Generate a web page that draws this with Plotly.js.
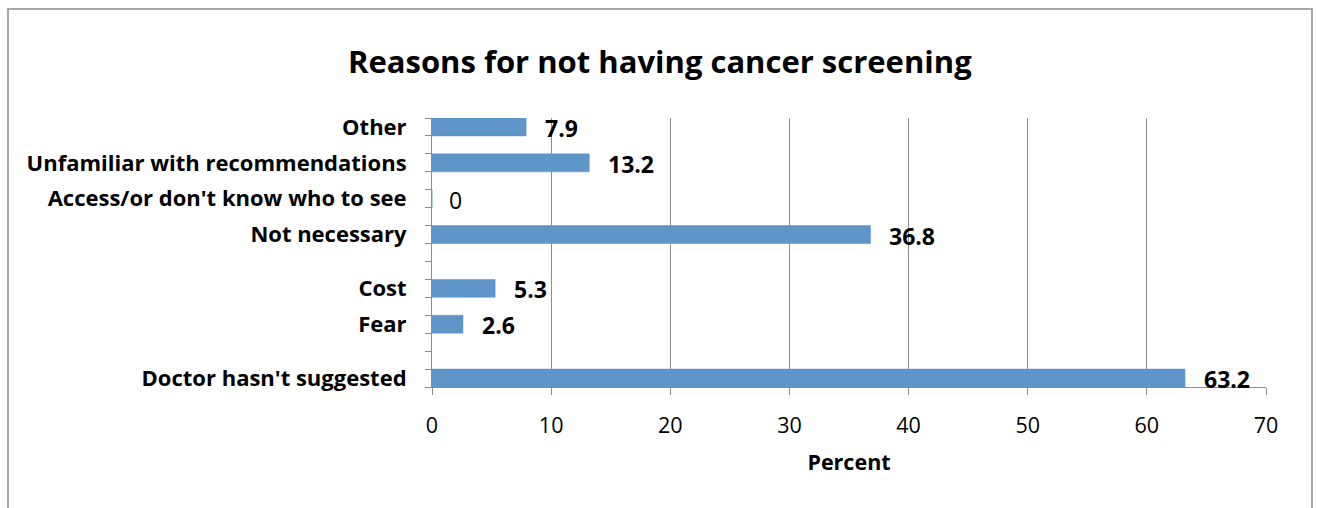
<!DOCTYPE html>
<html>
<head>
<meta charset="utf-8">
<script src="https://cdn.plot.ly/plotly-3.0.1.min.js"></script>
<style>
html,body{margin:0;padding:0;background:#fff;}
#chart{width:1317px;height:508px;}
</style>
</head>
<body>
<div id="chart"></div>
<script>
// Category labels (top to bottom) and their slot positions on the 15-slot category axis
const categories = ["Other", "Unfamiliar with recommendations", "Access/or don't know who to see", "Not necessary", "Cost", "Fear", "Doctor hasn't suggested"];
const slots = [1, 3, 5, 7, 10, 12, 15];
const values = [7.9, 13.2, 0, 36.8, 5.3, 2.6, 63.2];
const valueLabels = ["7.9", "13.2", "0", "36.8", "5.3", "2.6", "63.2"];
const xTicks = [0, 10, 20, 30, 40, 50, 60, 70];

const FONT = "'Open Sans', 'Noto Sans', sans-serif";

const trace = {
  type: 'bar',
  orientation: 'h',
  x: values,
  y: slots,
  width: 1,
  marker: {color: '#5f96c9', line: {color: '#5b8fc4', width: 0.5}},
  hoverinfo: 'x+y'
};

const annotations = values.map((v, i) => ({
  x: v, y: slots[i], xref: 'x', yref: 'y',
  text: valueLabels[i],
  showarrow: false,
  xanchor: 'left', yanchor: 'middle',
  xshift: v === 0 ? 15 : 17, yshift: -1,
  font: {family: FONT, size: 23, color: '#000', weight: v === 0 ? 'normal' : 'bold'}
}));

const plotL = 432, plotR = 1266, plotT = 118, plotB = 387, W = 1317, H = 508;
const pw = plotR - plotL, ph = plotB - plotT;
const px = X => (X - plotL) / pw;
const py = Y => (plotB - Y) / ph;

const layout = {
  width: W, height: H,
  margin: {l: plotL, r: W - plotR, t: plotT, b: H - plotB, pad: 0},
  paper_bgcolor: '#fff', plot_bgcolor: '#fff',
  showlegend: false,
  bargap: 0,
  title: {
    text: '<b>Reasons for not having cancer screening</b>',
    font: {family: FONT, size: 31, color: '#000'},
    x: 0.501, xanchor: 'center', xref: 'container',
    y: 1 - 62 / H, yanchor: 'middle', yref: 'container'
  },
  xaxis: {
    range: [0, 70],
    tickvals: xTicks,
    ticktext: xTicks.map(String),
    showgrid: true, gridcolor: '#8c8c8c', gridwidth: 1,
    zeroline: false,
    showline: true, linecolor: '#8c8c8c', linewidth: 1,
    ticks: 'outside', ticklen: 7, tickcolor: '#8c8c8c',
    tickfont: {family: FONT, size: 21.5, color: '#000'},
    ticklabelstandoff: 12,
    title: {text: '<b>Percent</b>', font: {family: FONT, size: 21.5, color: '#000'}, standoff: 17},
    fixedrange: true
  },
  yaxis: {
    range: [15.5, 0.5],
    tickvals: slots,
    ticktext: categories,
    ticks: '',
    showgrid: false, zeroline: false,
    showline: true, linecolor: '#8c8c8c', linewidth: 1,
    tickfont: {family: FONT, size: 22, color: '#000', weight: 'bold'},
    ticklabelstandoff: 20,
    minor: {tick0: 0.5, dtick: 1, ticks: 'outside', ticklen: 6, tickcolor: '#8c8c8c', showgrid: false},
    fixedrange: true
  },
  annotations: annotations,
  shapes: [{
    type: 'rect', xref: 'paper', yref: 'paper',
    x0: px(8), x1: px(1312), y0: py(540), y1: py(9),
    line: {color: '#8c8c8c', width: 1.5}, fillcolor: 'rgba(0,0,0,0)', layer: 'below'
  }]
};

Plotly.newPlot('chart', [trace], layout, {displayModeBar: false, staticPlot: true});
</script>
</body>
</html>
